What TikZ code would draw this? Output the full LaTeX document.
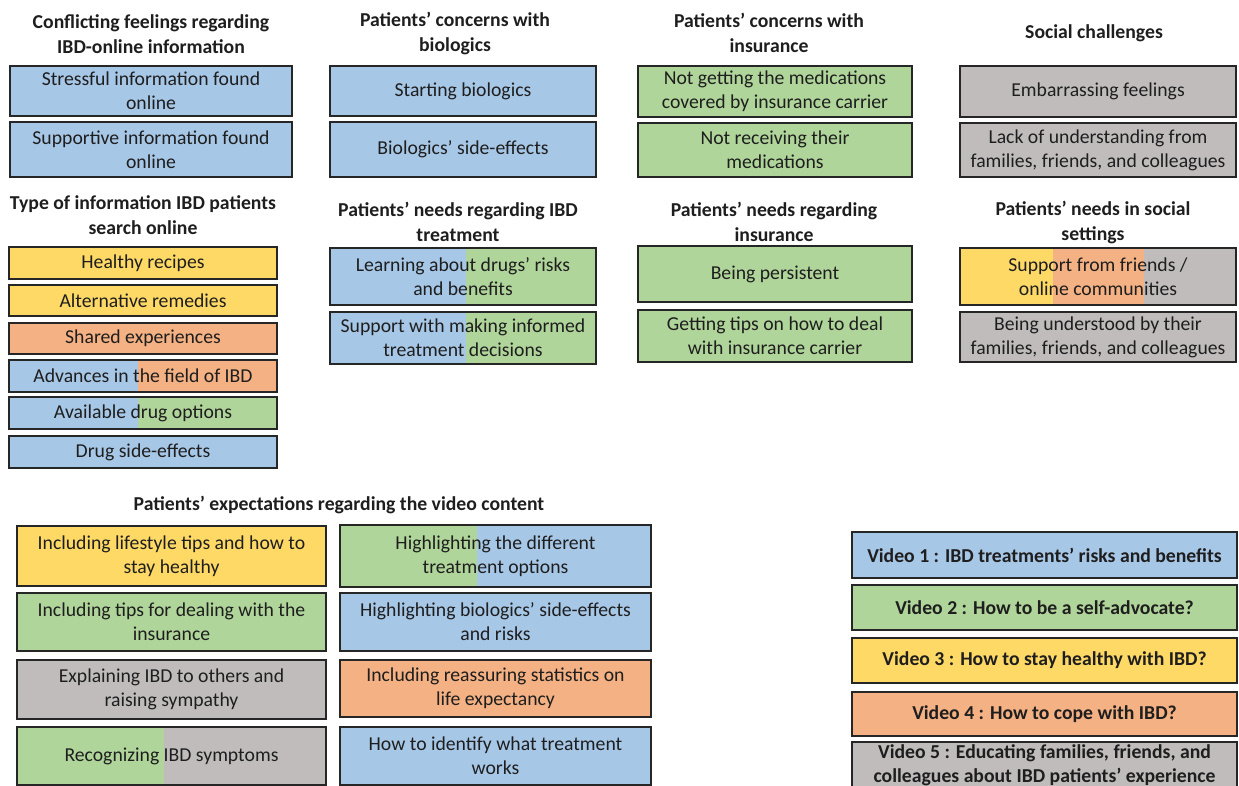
\documentclass[tikz,border=0pt]{standalone}
\usepackage{fontspec}
\setmainfont{Carlito}
\usepackage{tikz}
\usetikzlibrary{positioning, calc}

\definecolor{cblue}{HTML}{A7C7E7}
\definecolor{cgreen}{HTML}{B0D59A}
\definecolor{cyellow}{HTML}{FFD966}
\definecolor{corange}{HTML}{F4B183}
\definecolor{cgray}{HTML}{C0BCBC}
\definecolor{boxline}{HTML}{262626}
\definecolor{ink}{HTML}{1E1E1E}

\begin{document}
\begin{tikzpicture}[x=1pt, y=-1pt,
	box/.style={draw=boxline, line width=1.6pt, align=center, inner sep=0pt, text=ink,
		font=\fontsize{19.7}{24}\selectfont},
	head/.style={align=center, text=ink, font=\fontsize{19.7}{25}\selectfont\bfseries},
	vid/.style={box, font=\fontsize{19.7}{24}\selectfont\bfseries},
	twotone/.style n args={3}{fill=#3, path picture={
		\fill[#2] (path picture bounding box.north west) rectangle ([xshift=#1]path picture bounding box.south west);}},
	colA/.style={minimum width=282pt},
	colB/.style={minimum width=268pt},
	colC/.style={minimum width=266pt},
	colD/.style={minimum width=274pt},
	colE/.style={minimum width=276pt},
	colF/.style={minimum width=309pt},
	colG/.style={minimum width=311pt},
	colH/.style={minimum width=385pt}]
	\useasboundingbox[fill=white] (0,0) rectangle (1239,785);

	\node[head] (hconf) at (151, 34) {Conflicting feelings regarding\\IBD-online information};
	\node[box, colA, fill=cblue, minimum height=50pt] (conf1) at (151, 91) {Stressful information found\\online};
	\node[box, colA, fill=cblue, minimum height=55pt] (conf2) at (151, 149.5) {Supportive information found\\online};

	\node[head] (hsrch) at (143, 215) {Type of information IBD patients\\search online};
	\node[box, colB, fill=cyellow, minimum height=32pt] (srch1) at (143, 263) {Healthy recipes};
	\node[box, colB, fill=cyellow, minimum height=31pt] (srch2) at (143, 300.5) {Alternative remedies};
	\node[box, colB, fill=corange, minimum height=31pt] (srch3) at (143, 338.5) {Shared experiences};
	\node[box, colB, twotone={129pt}{cblue}{corange}, minimum height=32pt] (srch4) at (143, 376) {Advances in the field of IBD};
	\node[box, colB, twotone={129pt}{cblue}{cgreen}, minimum height=32pt] (srch5) at (143, 413) {Available drug options};
	\node[box, colB, fill=cblue, minimum height=32pt] (srch6) at (143, 452) {Drug side-effects};

	\node[head] (hbio) at (455, 33) {Patients’ concerns with\\biologics};
	\node[box, colC, fill=cblue, minimum height=50pt] (bio1) at (463, 91) {Starting biologics};
	\node[box, colC, fill=cblue, minimum height=55pt] (bio2) at (463, 149.5) {Biologics’ side-effects};

	\node[head] (htrt) at (458, 222) {Patients’ needs regarding IBD\\treatment};
	\node[box, colC, twotone={136pt}{cblue}{cgreen}, minimum height=57pt] (trt1) at (463, 276.5) {Learning about drugs’ risks\\and benefits};
	\node[box, colC, twotone={136pt}{cblue}{cgreen}, minimum height=52pt] (trt2) at (463, 338) {Support with making informed\\treatment decisions};

	\node[head] (hins) at (769, 33) {Patients’ concerns with\\insurance};
	\node[box, colD, fill=cgreen, minimum height=51pt] (ins1) at (775, 91.5) {Not getting the medications\\covered by insurance carrier};
	\node[box, colD, fill=cgreen, minimum height=54pt] (ins2) at (775, 150) {Not receiving their\\medications};

	\node[head] (hneed) at (774, 222) {Patients’ needs regarding\\insurance};
	\node[box, colD, fill=cgreen, minimum height=56pt] (need1) at (775, 274) {Being persistent};
	\node[box, colD, fill=cgreen, minimum height=52pt] (need2) at (775, 336) {Getting tips on how to deal\\with insurance carrier};

	\node[head] (hsoc) at (1094, 33) {Social challenges};
	\node[box, colE, fill=cgray, minimum height=51pt] (soc1) at (1098, 91.5) {Embarrassing feelings};
	\node[box, colE, fill=cgray, minimum height=54pt] (soc2) at (1098, 150) {Lack of understanding from\\families, friends, and colleagues};

	\node[head] (hset) at (1093, 222) {Patients’ needs in social\\settings};
	\node[box, colE, fill=cgray, minimum height=57pt, path picture={
		\fill[cyellow] (path picture bounding box.north west) rectangle ([xshift=93pt]path picture bounding box.south west);
		\fill[corange] ([xshift=93pt]path picture bounding box.north west) rectangle ([xshift=184pt]path picture bounding box.south west);}]
		(set1) at (1098, 276.5) {Support from friends /\\online communities};
	\node[box, colE, fill=cgray, minimum height=50pt] (set2) at (1098, 337) {Being understood by their\\families, friends, and colleagues};

	\node[head] (hexp) at (339, 505) {Patients’ expectations regarding the video content};
	\node[box, colF, fill=cyellow, minimum height=60pt] (exp1) at (171.5, 556) {Including lifestyle tips and how to\\stay healthy};
	\node[box, colF, fill=cgreen, minimum height=58pt] (exp2) at (171.5, 622) {Including tips for dealing with the\\insurance};
	\node[box, colF, fill=cgray, minimum height=59pt] (exp3) at (171.5, 689.5) {Explaining IBD to others and\\raising sympathy};
	\node[box, colF, twotone={147pt}{cgreen}{cgray}, minimum height=58pt] (exp4) at (171.5, 756) {Recognizing IBD symptoms};
	\node[box, colG, twotone={137pt}{cgreen}{cblue}, minimum height=62pt] (exp5) at (495.5, 556) {Highlighting the different\\treatment options};
	\node[box, colG, fill=cblue, minimum height=58pt] (exp6) at (495.5, 622) {Highlighting biologics’ side-effects\\and risks};
	\node[box, colG, fill=corange, minimum height=57pt] (exp7) at (495.5, 688.5) {Including reassuring statistics on\\life expectancy};
	\node[box, colG, fill=cblue, minimum height=58pt] (exp8) at (495.5, 756) {How to identify what treatment\\works};

	\node[vid, colH, fill=cblue, minimum height=46pt] (vid1) at (1044.5, 555) {Video 1 : IBD treatments’ risks and benefits};
	\node[vid, colH, fill=cgreen, minimum height=45pt] (vid2) at (1044.5, 607.5) {Video 2 : How to be a self-advocate?};
	\node[vid, colH, fill=cyellow, minimum height=45pt] (vid3) at (1044.5, 660.5) {Video 3 : How to stay healthy with IBD?};
	\node[vid, colH, fill=corange, minimum height=44pt] (vid4) at (1044.5, 714) {Video 4 : How to cope with IBD?};
	\node[vid, colH, fill=cgray, minimum height=46pt] (vid5) at (1044.5, 765) {Video 5 : Educating families, friends, and\\colleagues about IBD patients’ experience};
\end{tikzpicture}
\end{document}
